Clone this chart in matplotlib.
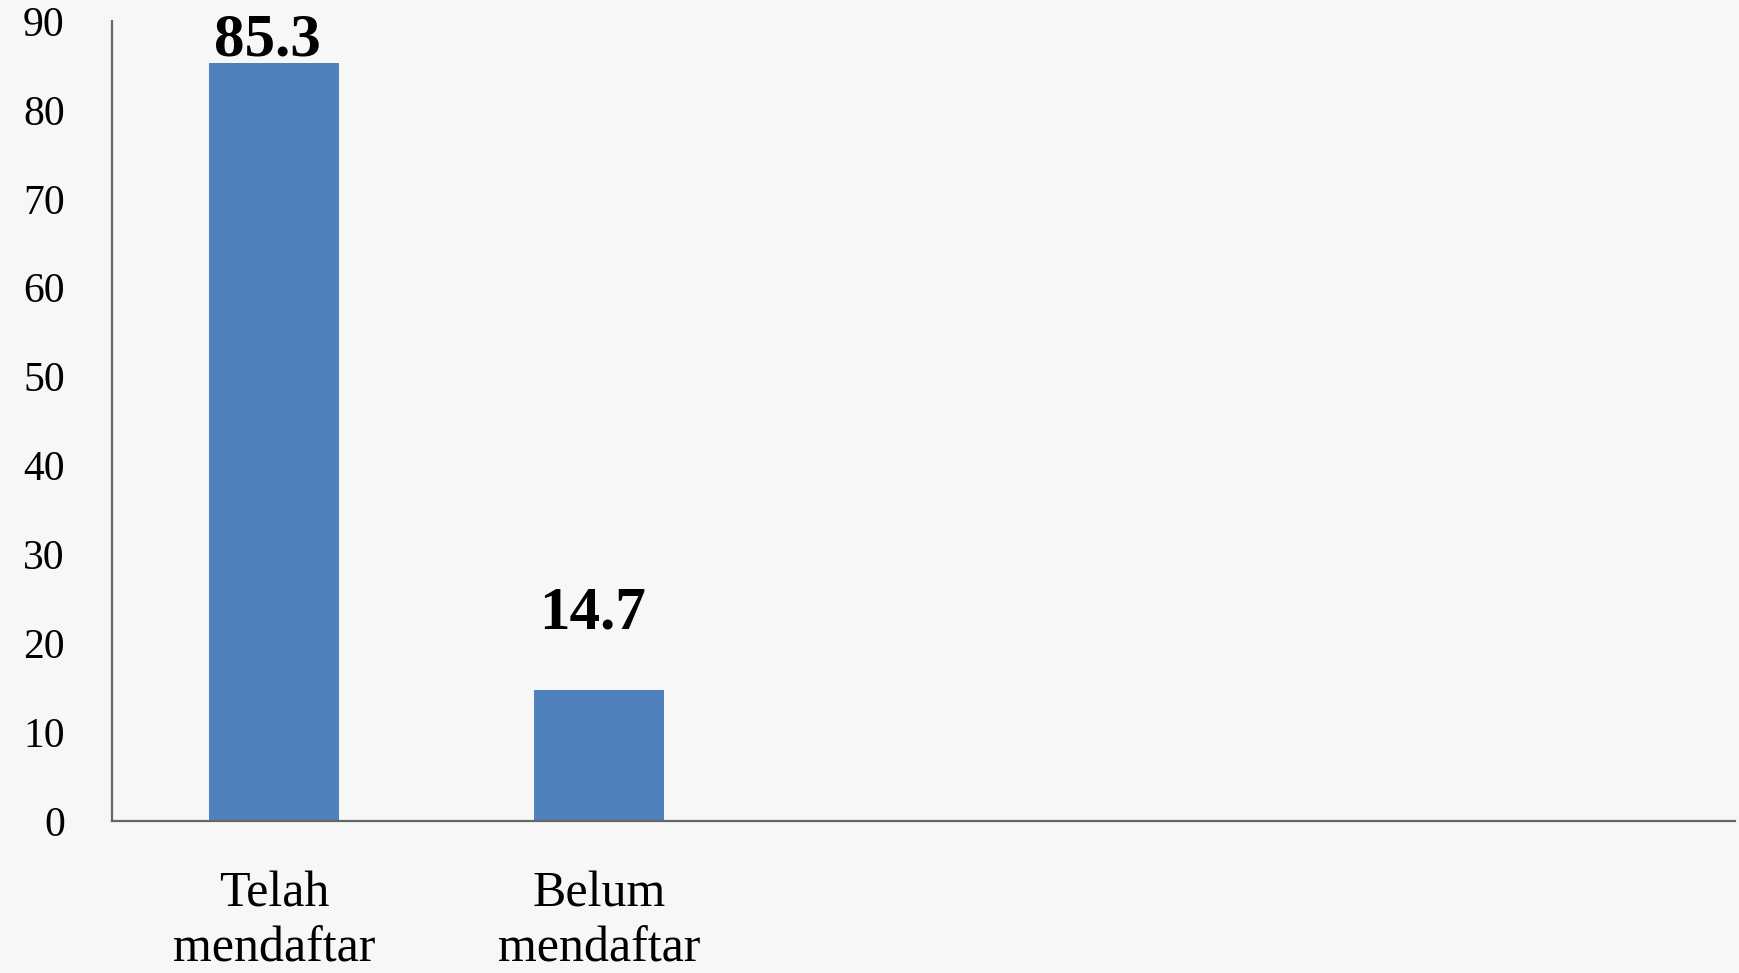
import matplotlib
matplotlib.use("Agg")
import matplotlib.pyplot as plt

categories = ["Telah\nmendaftar", "Belum\nmendaftar", "", "", ""]
values = [85.3, 14.7]
yticks = [0, 10, 20, 30, 40, 50, 60, 70, 80, 90]

plt.rcParams['font.family'] = ['Liberation Serif', 'DejaVu Serif']

fig = plt.figure(figsize=(17.4, 9.73), dpi=100, facecolor='#f7f7f7')
ax = fig.add_axes([0.0644, 0.1562, 0.9327, 0.8222])
ax.set_facecolor('none')

x = list(range(len(categories)))
ax.bar(x[:len(values)], values, width=0.4, color='#4f81bd')

for xi, v in zip(x, values):
    ax.text(xi - 0.02, min(v + 8.6, 87.8), f"{v:.1f}", ha='center', va='center',
            fontsize=44, fontweight='bold', color='black', clip_on=False)

ax.set_xlim(-0.5, len(categories) - 0.5)
ax.set_ylim(0, 90)
ax.set_yticks(yticks)
ax.set_yticklabels([str(t) for t in yticks], fontsize=30)
ax.set_xticks(x)
ax.set_xticklabels(categories, fontsize=36, linespacing=1.25)
ax.tick_params(axis='y', length=0, pad=34)
ax.tick_params(axis='x', length=0, pad=36)

for s in ['top', 'right']:
    ax.spines[s].set_visible(False)
for s in ['left', 'bottom']:
    ax.spines[s].set_color('#666666')
    ax.spines[s].set_linewidth(1.6)

fig.savefig("out.png", dpi=100, facecolor=fig.get_facecolor())
